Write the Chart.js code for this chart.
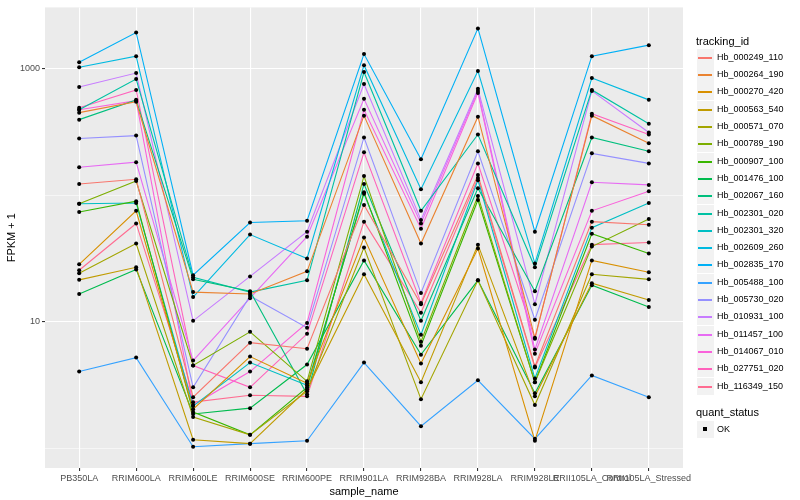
<!DOCTYPE html>
<html>
<head>
<meta charset="utf-8">
<script src="https://cdn.jsdelivr.net/npm/chart.js@4/dist/chart.umd.min.js"></script>
<style>
  body { margin: 0; background: #fff; }
  #wrap { position: relative; width: 800px; height: 500px; font-family: "Liberation Sans", Arial, sans-serif; }
  #chart { position: absolute; left: 0; top: 0; }
  .ttl { position: absolute; font-size: 11px; line-height: 12px; color: #000; white-space: nowrap; }
  .row { position: absolute; left: 697px; height: 17px; }
  .key { position: absolute; left: 0; top: 0; width: 17px; height: 17px; background: #F2F2F2; }
  .key .ln { position: absolute; left: 1px; right: 2px; top: 8px; height: 1.5px; }
  .key .dot { position: absolute; left: 6px; top: 6px; width: 4px; height: 4px; background: #000; }
  .lbl { position: absolute; left: 20px; top: 2px; font-size: 9px; line-height: 12px; color: #000; white-space: nowrap; }
</style>
</head>
<body>
<div id="wrap">
  <canvas id="chart" width="800" height="500"></canvas>
  <div id="legend"></div>
</div>
<script>
const samples = ["PB350LA", "RRIM600LA", "RRIM600LE", "RRIM600SE", "RRIM600PE", "RRIM901LA",
  "RRIM928BA", "RRIM928LA", "RRIM928LE", "RRII105LA_Control", "RRII105LA_Stressed"];

const trackingIds = ["Hb_000249_110", "Hb_000264_190", "Hb_000270_420", "Hb_000563_540", "Hb_000571_070",
  "Hb_000789_190", "Hb_000907_100", "Hb_001476_100", "Hb_002067_160", "Hb_002301_020",
  "Hb_002301_320", "Hb_002609_260", "Hb_002835_170", "Hb_005488_100", "Hb_005730_020",
  "Hb_010931_100", "Hb_011457_100", "Hb_014067_010", "Hb_027751_020", "Hb_116349_150"];

const lineColors = ["#F8766D", "#EA8331", "#D89000", "#C09B00", "#A3A500", "#7CAE00", "#39B600",
  "#00BB4E", "#00BF7D", "#00C1A3", "#00BFC4", "#00BAE0", "#00B0F6", "#35A2FF", "#9590FF",
  "#C77CFF", "#E76BF3", "#FA62DB", "#FF62BC", "#FF6C91"];

// FPKM + 1 per sample, same order as samples
const hb_000249_110 = [123, 134, 2.54, 6.85, 6.14, 84, 13.8, 145, 4.44, 62, 58.6];
const hb_000264_190 = [451, 550, 17.2, 16.6, 25.1, 427, 41.6, 419, 7.49, 427, 258];
const hb_000270_420 = [28.5, 75.5, 2.04, 5.32, 3.27, 46.4, 4.69, 38, 1.15, 30.6, 24.7];
const hb_000563_540 = [21.5, 27, 1.17, 1.09, 2.93, 23.8, 3.33, 40.8, 2.58, 20.2, 14.9];
const hb_000571_070 = [24.2, 41.6, 1.77, 1.28, 2.83, 38.7, 2.45, 21.3, 2.2, 23.8, 21.7];
const hb_000789_190 = [86, 130, 4.52, 8.35, 3.39, 142, 6.97, 99, 3.33, 39.4, 65];
const hb_000907_100 = [74, 90, 1.94, 1.28, 3.04, 106, 6.48, 92, 3.33, 49.8, 34.7];
const hb_001476_100 = [16.6, 26, 1.87, 2.08, 4.6, 30.6, 5.51, 21.3, 2.73, 19.5, 13.1];
const hb_002067_160 = [397, 569, 21.7, 17.5, 2.68, 123, 10.2, 114, 17.5, 287, 223];
const hb_002301_020 = [475, 832, 22.5, 17.2, 21.3, 944, 75.5, 303, 27, 682, 369];
const hb_002301_320 = [86, 87, 2.16, 4.77, 3.15, 103, 7.91, 132, 3.57, 55.6, 87];
const hb_002609_260 = [1030, 1260, 15.7, 49, 31.7, 1070, 112, 961, 29, 847, 569];
const hb_002835_170 = [1130, 1940, 23.4, 61, 63, 1310, 193, 2090, 51.6, 1260, 1540];
const hb_005488_100 = [4.05, 5.22, 1.03, 1.09, 1.15, 4.77, 1.5, 3.45, 1.19, 3.77, 2.54];
const hb_005730_020 = [282, 297, 3.04, 16, 8.98, 287, 16.9, 223, 10.4, 215, 179];
const hb_010931_100 = [720, 927, 10.2, 22.9, 51.6, 760, 64, 695, 13.8, 670, 314];
const hb_011457_100 = [167, 183, 4.95, 15.4, 47.2, 580, 60, 670, 6.04, 127, 121];
const hb_014067_010 = [475, 560, 2.2, 4.05, 9.8, 475, 54.5, 646, 5.61, 75.5, 108];
const hb_027751_020 = [493, 682, 4.52, 3.04, 8.05, 219, 14.1, 179, 7.36, 442, 303];
const hb_116349_150 = [25.6, 60, 2.32, 2.63, 2.58, 62, 11.8, 137, 4.36, 40.8, 42.4];

const yTicks = [1, 10, 100, 1000];
const yLabelled = [10, 1000];

const seriesValues = [hb_000249_110, hb_000264_190, hb_000270_420, hb_000563_540, hb_000571_070,
  hb_000789_190, hb_000907_100, hb_001476_100, hb_002067_160, hb_002301_020,
  hb_002301_320, hb_002609_260, hb_002835_170, hb_005488_100, hb_005730_020,
  hb_010931_100, hb_011457_100, hb_014067_010, hb_027751_020, hb_116349_150];

const fontFamily = '"Liberation Sans", Arial, sans-serif';

const datasets = [];
// lines first, points drawn on top of every line
seriesValues.forEach(function(vals, i) {
    datasets.push({
        label: trackingIds[i],
        data: vals.map((v, j) => ({ x: j, y: v })),
        borderColor: lineColors[i],
        borderWidth: 1.1,
        pointRadius: 0,
        fill: false,
        tension: 0,
        order: 2
    });
});
seriesValues.forEach(function(vals, i) {
    datasets.push({
        label: trackingIds[i] + " OK",
        data: vals.map((v, j) => ({ x: j, y: v })),
        showLine: false,
        pointRadius: 2,
        pointBackgroundColor: "#000",
        pointBorderWidth: 0,
        order: 1
    });
});

const panelBg = {
    id: "panelBg",
    beforeDraw(chart) {
        const a = chart.chartArea;
        const ctx = chart.ctx;
        ctx.save();
        ctx.fillStyle = "#EBEBEB";
        ctx.fillRect(a.left, a.top, a.right - a.left, a.bottom - a.top);
        ctx.restore();
    }
};

new Chart(document.getElementById("chart").getContext("2d"), {
    type: "line",
    data: { datasets: datasets },
    plugins: [panelBg],
    options: {
        responsive: false,
        animation: false,
        devicePixelRatio: 1,
        layout: { padding: { left: 0, top: 5, right: 117, bottom: 0 } },
        plugins: { legend: { display: false }, tooltip: { enabled: false } },
        scales: {
            x: {
                type: "linear",
                min: -0.6,
                max: 10.6,
                afterBuildTicks: function(scale) {
                    scale.ticks = samples.map((s, i) => ({ value: i }));
                },
                afterFit: function(scale) { scale.height = 32; },
                border: { display: false },
                grid: { color: "#FFFFFF", lineWidth: 1.1, tickColor: "#333333", tickLength: 3 },
                ticks: {
                    autoSkip: false, maxRotation: 0, minRotation: 0, padding: 2,
                    color: "#4D4D4D", font: { family: fontFamily, size: 9 },
                    callback: function(value) { return samples[Math.round(value)]; }
                },
                title: {
                    display: true, text: "sample_name", color: "#000",
                    font: { family: fontFamily, size: 11 }, padding: { top: 0, bottom: 1 }
                }
            },
            y: {
                type: "logarithmic",
                min: 0.716,
                max: 3062,
                afterBuildTicks: function(scale) {
                    scale.ticks = yTicks.map(v => ({ value: v }));
                },
                afterFit: function(scale) { scale.width = 45; },
                border: { display: false },
                grid: {
                    color: "#FFFFFF",
                    lineWidth: ctx => (ctx.tick && yLabelled.includes(ctx.tick.value)) ? 1.1 : 0.55,
                    tickColor: ctx => (ctx.tick && yLabelled.includes(ctx.tick.value)) ? "#333333" : "rgba(0,0,0,0)",
                    tickLength: 3
                },
                ticks: {
                    autoSkip: false, padding: 2,
                    color: "#4D4D4D", font: { family: fontFamily, size: 9 },
                    callback: v => yLabelled.includes(v) ? String(v) : ""
                },
                title: {
                    display: true, text: "FPKM + 1", color: "#000",
                    font: { family: fontFamily, size: 11 }, padding: { top: 5, bottom: 0 }
                }
            }
        }
    }
});

// legend on the right, ggplot style
const legend = document.getElementById("legend");
function addTitle(text, centerY) {
    const t = document.createElement("div");
    t.className = "ttl";
    t.style.left = "696px";
    t.style.top = Math.round(centerY - 6) + "px";
    t.textContent = text;
    legend.appendChild(t);
}
addTitle("tracking_id", 40.7);
trackingIds.forEach(function(id, i) {
    const row = document.createElement("div");
    row.className = "row";
    row.style.top = Math.round(57.3 + i * 17.3 - 8.5) + "px";
    row.innerHTML = '<div class="key"><div class="ln" style="background:' + lineColors[i] + '"></div></div>' +
        '<div class="lbl">' + id + '</div>';
    legend.appendChild(row);
});
addTitle("quant_status", 412.3);
const okRow = document.createElement("div");
okRow.className = "row";
okRow.style.top = Math.round(429.3 - 8.5) + "px";
okRow.innerHTML = '<div class="key"><div class="dot"></div></div><div class="lbl">OK</div>';
legend.appendChild(okRow);
</script>
</body>
</html>
